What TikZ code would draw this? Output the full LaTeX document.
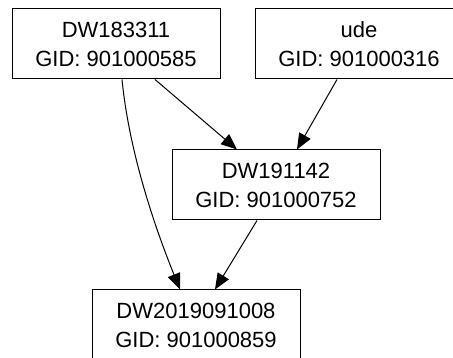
\documentclass[tikz,border=0pt]{standalone}
\usepackage{fontspec}
\setmainfont{Liberation Sans}
\usetikzlibrary{arrows.meta}

\tikzset{
    rel/.style={draw, line width=1pt, minimum width=208pt, minimum height=70pt,
        align=center, inner sep=0pt,
        font=\fontsize{22}{29}\selectfont},
    edge/.style={line width=1pt, -{Triangle[length=16pt,width=13pt]}}
}

\begin{document}
\begin{tikzpicture}[x=1pt,y=-1pt]
        \useasboundingbox (0,0) rectangle (453,358);
        \fill[white] (0,0) rectangle (453,358);
        \node[rel] (dwa) at (116,44) {DW183311\\GID: 901000585};
        \node[rel] (ude) at (359,44) {ude\\GID: 901000316};
        \node[rel] (dwb) at (276,185) {DW191142\\GID: 901000752};
        \node[rel] (dwc) at (196,325) {DW2019091008\\ GID: 901000859};
        \draw [edge] ([xshift=39pt]dwa.south) -- ([xshift=-39pt]dwb.north);
        \draw [edge] ([xshift=-22pt]ude.south) -- ([xshift=21pt]dwb.north);
        \draw [edge] ([xshift=-19pt]dwb.south) -- ([xshift=19pt]dwc.north);
        \draw [edge] ([xshift=6pt]dwa.south) .. controls (130,160) and (160,240) .. ([xshift=-16pt]dwc.north);
    \end{tikzpicture}
\end{document}
